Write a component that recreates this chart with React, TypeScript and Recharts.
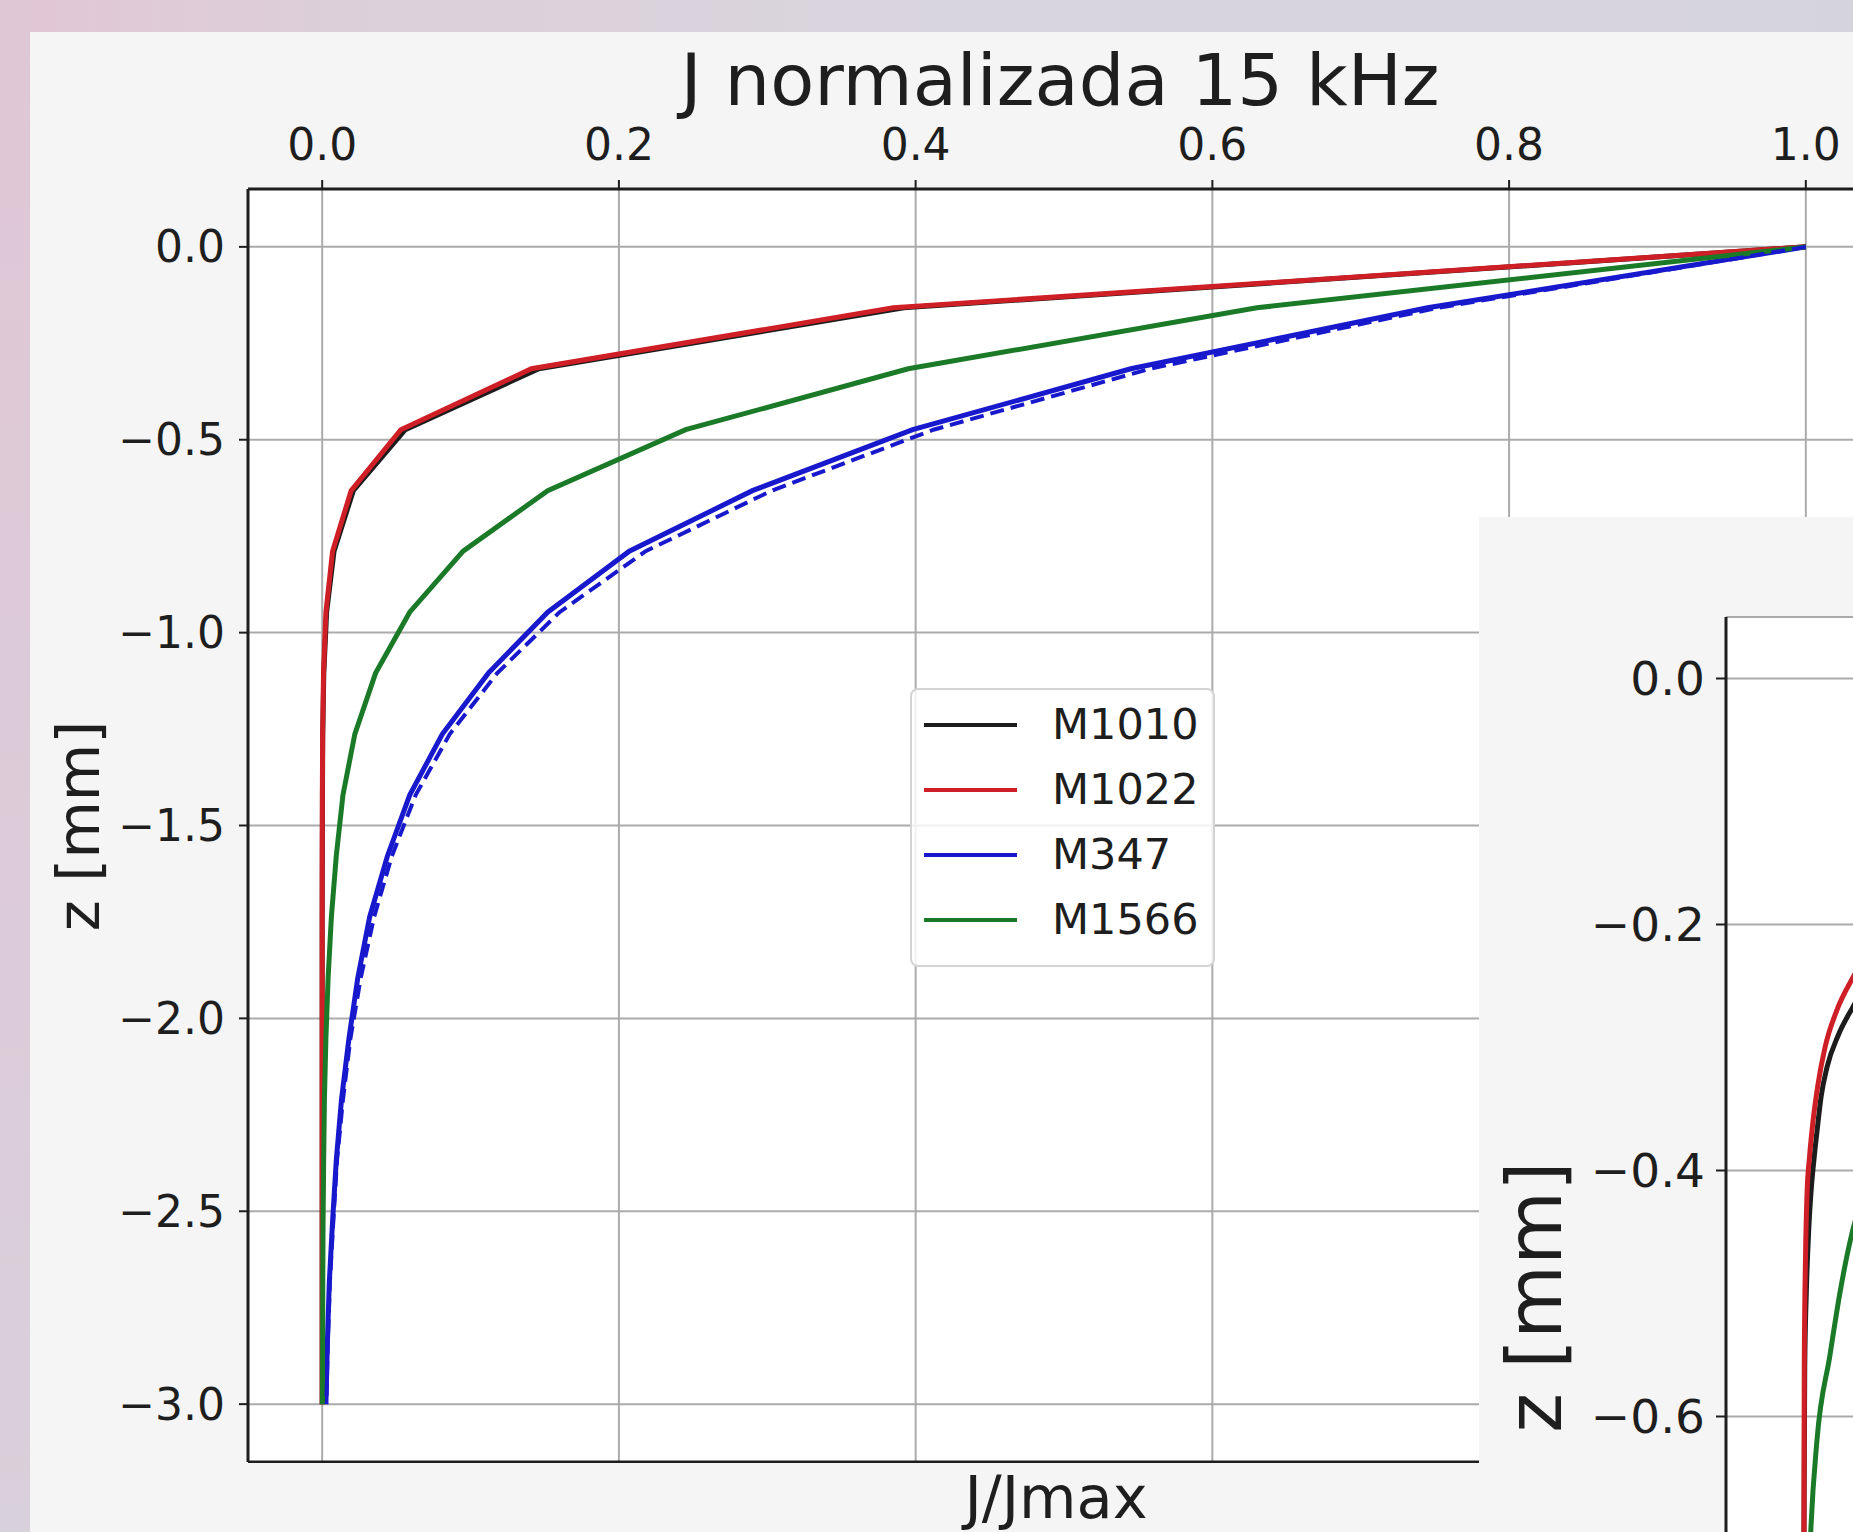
import { CartesianGrid, Line, LineChart, XAxis, YAxis } from "recharts";

// main chart: depth nodes (z, mm) and normalised current density per material
const depth = [
  0, -0.158, -0.316, -0.474, -0.632, -0.789, -0.947, -1.105, -1.263, -1.421,
  -1.579, -1.737, -1.895, -2.053, -2.211, -2.368, -2.526, -2.684, -2.842, -3.0,
];
const jM1010 = [1, 0.392, 0.146, 0.056, 0.021, 0.008, 0.003, 0.0011, 0.0004, 0.0002, 0.0001, 0, 0, 0, 0, 0, 0, 0, 0, 0];
const jM1022 = [1, 0.385, 0.141, 0.053, 0.0195, 0.007, 0.0025, 0.0009, 0.0003, 0.0001, 0, 0, 0, 0, 0, 0, 0, 0, 0, 0];
const jM347 = [1, 0.745, 0.545, 0.398, 0.29, 0.207, 0.152, 0.112, 0.081, 0.059, 0.044, 0.032, 0.024, 0.018, 0.013, 0.0095, 0.007, 0.0048, 0.0035, 0.0025];
const jM347b = [1, 0.752, 0.558, 0.412, 0.303, 0.218, 0.16, 0.118, 0.086, 0.063, 0.047, 0.035, 0.026, 0.019, 0.014, 0.01, 0.0075, 0.0052, 0.0038, 0.0028];
const jM1566 = [1, 0.63, 0.395, 0.245, 0.152, 0.095, 0.059, 0.036, 0.022, 0.014, 0.0095, 0.0062, 0.004, 0.0025, 0.0015, 0.001, 0.0006, 0.0004, 0.0003, 0.0002];

const xTicks = [0, 0.2, 0.4, 0.6, 0.8, 1.0];
const zTicks = [0, -0.5, -1.0, -1.5, -2.0, -2.5, -3.0];

// inset (second chart, partly covered by the page edge) - only the visible ticks
const insetZTicks = [0, -0.2, -0.4, -0.6];
const insetRedZ = [0, -0.1, -0.2, -0.244, -0.27, -0.3, -0.33, -0.36, -0.39, -0.418, -0.47, -0.56, -0.7, -0.85, -1.0];
const insetRedJ = [1, 0.24, 0.057, 0.031, 0.021, 0.0135, 0.009, 0.0058, 0.0035, 0.002, 0.001, 0.0002, 0, 0, 0];
const insetBlackZ = [0, -0.1, -0.2, -0.268, -0.29, -0.316, -0.34, -0.369, -0.39, -0.418, -0.45, -0.5, -0.56, -0.7, -1.0];
const insetBlackJ = [1, 0.29, 0.08, 0.031, 0.022, 0.0148, 0.011, 0.0083, 0.0065, 0.0045, 0.003, 0.0015, 0.0005, 0, 0];
const insetGreenZ = [0, -0.1, -0.2, -0.3, -0.4, -0.45, -0.5, -0.55, -0.62, -0.69, -0.8, -0.9, -1.0];
const insetGreenJ = [1, 0.5, 0.24, 0.11, 0.05, 0.031, 0.023, 0.0167, 0.0083, 0.0045, 0.0015, 0.0005, 0.0001];

const FONT = "'DejaVu Sans', sans-serif";
const INK = "#1e1e1e";
const GRID = "#ababab";

const series = [
  { name: "M1010", color: "#1c1c1c", values: jM1010 },
  { name: "M1022", color: "#cf1f26", values: jM1022 },
  { name: "M347", color: "#1818cc", values: jM347 },
  { name: "M1566", color: "#1b7a27", values: jM1566 },
];

const toPoints = (z: number[], j: number[]) => z.map((zz, i) => ({ j: j[i], z: zz }));

const fmt = (v: number) => (v < -1e-9 ? "\u2212" : "") + Math.abs(v).toFixed(1);

function Legend() {
  return (
    <div
      style={{
        position: "absolute",
        left: 910,
        top: 688,
        width: 301,
        height: 273,
        border: "2px solid #d4d4d4",
        borderRadius: 8,
        background: "rgba(255,255,255,0.82)",
        paddingTop: 2,
      }}
    >
      {series.map((s) => (
        <div key={s.name} style={{ height: 65, display: "flex", alignItems: "center" }}>
          <div style={{ marginLeft: 12, width: 93, height: 4, background: s.color }} />
          <span style={{ marginLeft: 35, fontSize: 43, color: INK, lineHeight: 1 }}>{s.name}</span>
        </div>
      ))}
    </div>
  );
}

function MainChart() {
  return (
    <div style={{ position: "absolute", left: 0, top: 0 }}>
      <LineChart width={1880} height={1463} margin={{ top: 129, left: 88, right: 0, bottom: 0 }}>
        <CartesianGrid fill="#ffffff" stroke={GRID} strokeWidth={2} />
        <XAxis
          type="number"
          dataKey="j"
          orientation="top"
          domain={[-0.05, 1.05]}
          ticks={xTicks}
          interval={0}
          height={60}
          allowDataOverflow
          tickFormatter={fmt}
          tick={{ fontSize: 44, fill: INK }}
          tickSize={9}
          tickMargin={20}
          tickLine={{ stroke: INK, strokeWidth: 2 }}
          axisLine={{ stroke: INK, strokeWidth: 3 }}
        />
        <XAxis
          xAxisId="b"
          type="number"
          dataKey="j"
          orientation="bottom"
          domain={[-0.05, 1.05]}
          height={1}
          allowDataOverflow
          tick={false}
          tickLine={false}
          axisLine={{ stroke: INK, strokeWidth: 3 }}
        />
        <YAxis
          type="number"
          domain={[-3.15, 0.15]}
          ticks={zTicks}
          interval={0}
          width={160}
          allowDataOverflow
          tickFormatter={fmt}
          tick={{ fontSize: 44, fill: INK }}
          tickSize={9}
          tickMargin={14}
          tickLine={{ stroke: INK, strokeWidth: 2 }}
          axisLine={{ stroke: INK, strokeWidth: 3 }}
        />
        {series.map((s) => (
          <Line
            key={s.name}
            data={toPoints(depth, s.values)}
            dataKey="z"
            type="linear"
            stroke={s.color}
            strokeWidth={5}
            dot={false}
            isAnimationActive={false}
          />
        ))}
        <Line
          data={toPoints(depth, jM347b)}
          dataKey="z"
          type="linear"
          stroke="#1818cc"
          strokeWidth={4}
          strokeDasharray="14 7"
          dot={false}
          isAnimationActive={false}
        />
      </LineChart>
    </div>
  );
}

function InsetChart() {
  return (
    <div style={{ position: "absolute", left: 1479, top: 517, width: 500, height: 1100, background: "#f5f5f5" }}>
      <LineChart width={1962} height={1513} margin={{ top: 100, left: 97, right: 0, bottom: 0 }}>
        <CartesianGrid fill="#ffffff" stroke={GRID} strokeWidth={2} />
        <XAxis
          type="number"
          dataKey="j"
          domain={[-0.05, 1.05]}
          ticks={xTicks}
          interval={0}
          height={60}
          allowDataOverflow
          tick={false}
          tickSize={10}
          axisLine={{ stroke: INK, strokeWidth: 3 }}
        />
        <XAxis
          xAxisId="t"
          type="number"
          dataKey="j"
          orientation="top"
          domain={[-0.05, 1.05]}
          height={0}
          allowDataOverflow
          tick={false}
          tickLine={false}
          axisLine={{ stroke: INK, strokeWidth: 3 }}
        />
        <YAxis
          type="number"
          domain={[-1.05, 0.05]}
          ticks={insetZTicks}
          interval={0}
          width={150}
          allowDataOverflow
          tickFormatter={fmt}
          tick={{ fontSize: 47, fill: INK }}
          tickSize={10}
          tickMargin={11}
          tickLine={{ stroke: INK, strokeWidth: 2 }}
          axisLine={{ stroke: INK, strokeWidth: 3 }}
        />
        <Line data={toPoints(insetBlackZ, insetBlackJ)} dataKey="z" type="monotone" stroke="#1c1c1c" strokeWidth={5} dot={false} isAnimationActive={false} />
        <Line data={toPoints(insetRedZ, insetRedJ)} dataKey="z" type="monotone" stroke="#cf1f26" strokeWidth={5} dot={false} isAnimationActive={false} />
        <Line data={toPoints(insetGreenZ, insetGreenJ)} dataKey="z" type="monotone" stroke="#1b7a27" strokeWidth={5} dot={false} isAnimationActive={false} />
      </LineChart>
      <div
        style={{
          position: "absolute",
          left: 1535 - 1479,
          top: 1297 - 517,
          transform: "translate(-50%, -50%) rotate(-90deg)",
          fontSize: 76,
          lineHeight: 1,
          whiteSpace: "nowrap",
          color: INK,
        }}
      >
        z [mm]
      </div>
    </div>
  );
}

export default function App() {
  return (
    <div
      style={{
        position: "fixed",
        left: 0,
        top: 0,
        width: 1853,
        height: 1532,
        overflow: "hidden",
        fontFamily: FONT,
        background: "linear-gradient(90deg, #e2c6d5 0%, #dccfd9 18%, #d9d5de 50%, #d5d3db 100%)",
      }}
    >
      <div style={{ position: "absolute", left: 0, top: 0, width: 30, height: 1532, background: "linear-gradient(180deg, #e0c7d6 0%, #dccbd8 60%, #d8d0da 100%)" }} />
      <div style={{ position: "absolute", left: 30, top: 32, width: 1823, height: 1500, background: "#f5f5f5" }} />
      <div
        style={{
          position: "absolute",
          left: 1060,
          top: 44,
          transform: "translateX(-50%)",
          fontSize: 72,
          lineHeight: 1,
          whiteSpace: "nowrap",
          color: INK,
        }}
      >
        J normalizada 15 kHz
      </div>
      <MainChart />
      <div
        style={{
          position: "absolute",
          left: 1056,
          top: 1468,
          transform: "translateX(-50%)",
          fontSize: 59,
          lineHeight: 1,
          whiteSpace: "nowrap",
          color: INK,
        }}
      >
        J/Jmax
      </div>
      <div
        style={{
          position: "absolute",
          left: 78,
          top: 826,
          transform: "translate(-50%, -50%) rotate(-90deg)",
          fontSize: 59,
          lineHeight: 1,
          whiteSpace: "nowrap",
          color: INK,
        }}
      >
        z [mm]
      </div>
      <Legend />
      <InsetChart />
    </div>
  );
}
